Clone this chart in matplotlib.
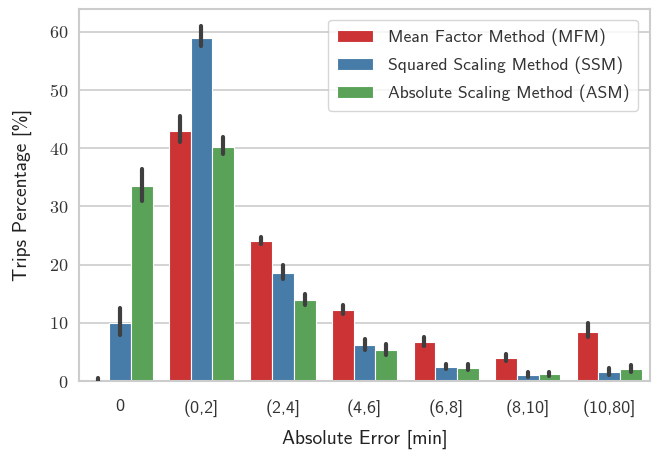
import os
import matplotlib
matplotlib.use("Agg")
import matplotlib.pyplot as plt
from matplotlib import font_manager
import numpy as np
import seaborn as sns

# values
categories = ["0", "(0,2]", "(2,4]", "(4,6]", "(6,8]", "(8,10]", "(10,80]"]
methods = ["Mean Factor Method (MFM)", "Squared Scaling Method (SSM)", "Absolute Scaling Method (ASM)"]

mfm = [0.3, 43.0, 24.0, 12.2, 6.7, 4.0, 8.5]
ssm = [10.0, 59.0, 18.6, 6.2, 2.4, 1.0, 1.5]
asm = [33.5, 40.2, 13.9, 5.3, 2.3, 1.2, 2.1]

# confidence interval bounds (low, high)
mfm_ci = [(0.0, 0.6), (41.0, 45.5), (23.5, 24.8), (11.5, 13.0), (6.0, 7.5), (3.5, 4.7), (7.5, 10.0)]
ssm_ci = [(8.0, 12.5), (57.5, 61.0), (17.5, 20.0), (5.3, 7.2), (2.0, 3.0), (0.7, 1.5), (1.0, 2.3)]
asm_ci = [(31.0, 36.5), (39.0, 42.0), (13.0, 15.0), (4.5, 6.3), (1.9, 2.9), (0.8, 1.6), (1.5, 2.8)]

sns.set_style("whitegrid")

# computer modern sans from matplotlib's own font folder
ttf_dir = os.path.join(matplotlib.get_data_path(), "fonts", "ttf")
font_manager.fontManager.addfont(os.path.join(ttf_dir, "cmss10.ttf"))
plt.rcParams["font.family"] = ["cmss10", "DejaVu Sans"]
plt.rcParams["mathtext.fontset"] = "cm"
plt.rcParams["axes.edgecolor"] = "#cccccc"

colors = [sns.desaturate(c, 0.75) for c in sns.color_palette("Set1", 3)]

fig = plt.figure(figsize=(6.54, 4.51), dpi=100)
ax = fig.add_axes([0.121, 0.155, 0.873, 0.825])

x = np.arange(len(categories))
width = 0.8 / 3
series = [mfm, ssm, asm]
cis = [mfm_ci, ssm_ci, asm_ci]

for i, (vals, ci, col, name) in enumerate(zip(series, cis, colors, methods)):
    pos = x - 0.4 + width * (i + 0.5)
    ax.bar(pos, vals, width, color=col, edgecolor="white", linewidth=0.8, label=name, zorder=2)
    lo = [c[0] for c in ci]
    hi = [c[1] for c in ci]
    ax.vlines(pos, lo, hi, color="#3f3f3f", linewidth=3.0, capstyle="round", zorder=3)

ax.set_xlim(-0.5, len(categories) - 0.5)
ax.set_ylim(0, 63.9)
yt = [0, 10, 20, 30, 40, 50, 60]
ax.set_yticks(yt)
ax.set_yticklabels([f"${v}$" for v in yt], fontsize=13, color="#333333")
ax.set_xticks(x)
ax.set_xticklabels(categories, fontsize=13, color="#333333")
ax.xaxis.grid(False)
ax.yaxis.grid(True, color="#cccccc", linewidth=1.2)
ax.set_axisbelow(True)
for s in ax.spines.values():
    s.set_linewidth(1.5)
ax.tick_params(axis="y", length=0, pad=8)
ax.tick_params(axis="x", length=0, pad=13)

ax.set_xlabel("Absolute Error [min]", fontsize=14, labelpad=9, color="#222222")
ax.set_ylabel("Trips Percentage [%]", fontsize=14, labelpad=12, color="#222222")

leg = ax.legend(loc="upper right", fontsize=12.7, frameon=True,
                bbox_to_anchor=(0.994, 0.995), handlelength=2.0, borderpad=0.5,
                labelspacing=0.6, handletextpad=0.85)
for t in leg.get_texts():
    t.set_color("#333333")

fig.savefig("out.png", dpi=100)
